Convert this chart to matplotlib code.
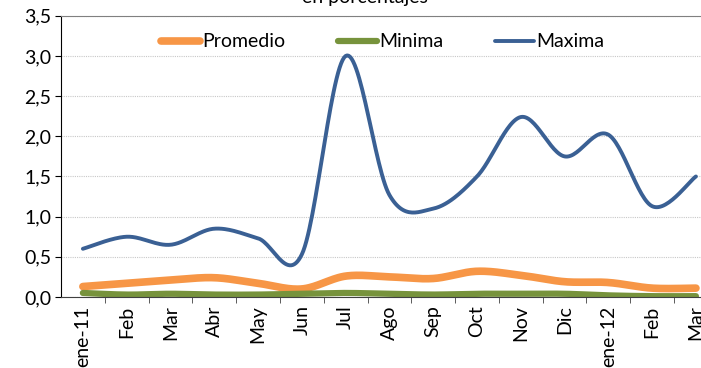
import numpy as np
import matplotlib.pyplot as plt
from matplotlib.ticker import FuncFormatter, FixedLocator, NullFormatter

meses = ['ene-11', 'Feb', 'Mar', 'Abr', 'May', 'Jun', 'Jul', 'Ago', 'Sep',
         'Oct', 'Nov', 'Dic', 'ene-12', 'Feb', 'Mar']
promedio = [0.13, 0.17, 0.21, 0.24, 0.17, 0.10, 0.26, 0.25, 0.23, 0.32,
            0.27, 0.19, 0.18, 0.11, 0.11]
minima = [0.05, 0.03, 0.04, 0.03, 0.03, 0.04, 0.05, 0.04, 0.03, 0.04,
          0.04, 0.04, 0.02, 0.01, 0.01]
maxima = [0.60, 0.75, 0.65, 0.85, 0.73, 0.53, 3.00, 1.27, 1.10, 1.50,
          2.24, 1.75, 2.02, 1.13, 1.50]


def suavizar(y, n=30, t=0.5):
    # curva tipo Catmull-Rom entre puntos consecutivos
    y = np.asarray(y, float)
    x = np.arange(len(y), dtype=float)
    px = np.concatenate([[x[0]], x, [x[-1]]])
    py = np.concatenate([[y[0]], y, [y[-1]]])
    xs, ys = [], []
    for i in range(1, len(px) - 2):
        p0, p1, p2, p3 = (np.array([px[j], py[j]]) for j in (i - 1, i, i + 1, i + 2))
        c1 = p1 + (p2 - p0) * t / 3
        c2 = p2 - (p3 - p1) * t / 3
        s = np.linspace(0, 1, n)[:, None]
        b = ((1 - s) ** 3) * p1 + 3 * ((1 - s) ** 2) * s * c1 + 3 * (1 - s) * s ** 2 * c2 + s ** 3 * p2
        xs.append(b[:, 0])
        ys.append(b[:, 1])
    return np.concatenate(xs), np.concatenate(ys)


plt.rcParams['font.family'] = ['Lato', 'DejaVu Sans']

fig = plt.figure(figsize=(7.01, 3.68), dpi=100)
ax = fig.add_axes([0.087, 0.193, 0.937, 0.764])

series = [('Promedio', promedio, '#F79646', 5.5),
          ('Minima', minima, '#77933C', 4.5),
          ('Maxima', maxima, '#3A6094', 2.8)]
for nombre, vals, color, lw in series:
    xs, ys = suavizar(vals)
    ax.plot(xs, ys, color=color, lw=lw, label=nombre, solid_capstyle='round')

ax.set_xlim(-0.5, len(meses) - 0.5)
ax.set_ylim(0, 3.5)
ax.set_yticks(np.arange(0, 3.51, 0.5))
ax.yaxis.set_major_formatter(FuncFormatter(lambda v, p: f'{v:.1f}'.replace('.', ',')))
ax.grid(axis='y', color='#C8C8C8', lw=0.8, ls=(0, (1, 1)))
ax.set_axisbelow(True)

ax.set_xticks(range(len(meses)))
ax.set_xticklabels(meses, rotation=90, fontsize=14)
ax.xaxis.set_minor_locator(FixedLocator(np.arange(0.5, len(meses), 1)))
ax.xaxis.set_minor_formatter(NullFormatter())
ax.tick_params(axis='x', which='major', length=0, pad=6)
ax.tick_params(axis='x', which='minor', length=4, color='#404040')
ax.tick_params(axis='y', length=4, labelsize=14, pad=3)

ax.spines['right'].set_visible(False)
ax.spines['top'].set_color('#808080')
ax.spines['left'].set_color('black')
ax.spines['bottom'].set_color('#404040')

ax.legend(loc='center', bbox_to_anchor=(0.49, 0.907), ncol=3, frameon=False,
          fontsize=14, handlelength=2.0, handletextpad=0.1, columnspacing=2.7)

fig.text(0.52, 0.991, 'en porcentajes', ha='center', va='baseline', fontsize=14)

fig.savefig('out.png', dpi=100)
